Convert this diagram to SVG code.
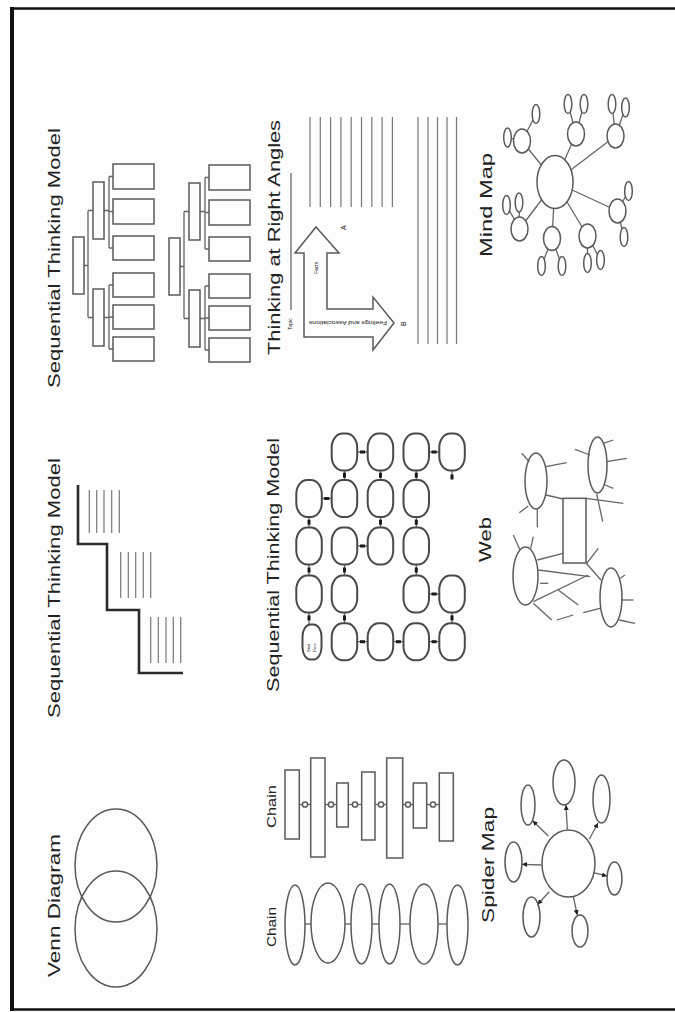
<svg xmlns="http://www.w3.org/2000/svg" width="675" height="1012" viewBox="0 0 675 1012">
<defs>
<style>
.t{font-family:"Liberation Sans","DejaVu Sans",sans-serif;fill:#222;}
.ti{font-size:17px;}
.sm{font-size:13px;}
.xs{font-size:5px;}
.o{fill:none;stroke:#5a5a5a;stroke-width:1.5;}
.n{fill:#fff;stroke:#5a5a5a;stroke-width:1.5;}
.ov{fill:#fff;stroke:#4a4a4a;stroke-width:2;}
.l{stroke:#666;stroke-width:1.3;fill:none;}
.hl{stroke:#777;stroke-width:1.2;}
.th{fill:none;stroke:#2a2a2a;stroke-width:2.6;}
.tk{fill:#1a1a1a;}
</style>
<marker id="ah" viewBox="0 0 6 6" refX="6" refY="3" markerWidth="5" markerHeight="5" markerUnits="userSpaceOnUse" orient="auto"><path d="M0,0 L6,3 L0,6 z" fill="#222"/></marker>
</defs>
<rect width="675" height="1012" fill="#fdfdfd"/>
<g id="frame">
<rect x="10" y="7" width="4" height="1004" fill="#111"/>
<line x1="10" y1="8.5" x2="675" y2="8.5" stroke="#111" stroke-width="2.5"/>
<line x1="10" y1="1009.5" x2="675" y2="1009.5" stroke="#111" stroke-width="2.5"/>
</g>

<!-- Titles -->
<g id="titles">
<text class="t ti" transform="translate(60,388) rotate(-90)" textLength="260" lengthAdjust="spacingAndGlyphs">Sequential Thinking Model</text>
<text class="t ti" transform="translate(60,718) rotate(-90)" textLength="260" lengthAdjust="spacingAndGlyphs">Sequential Thinking Model</text>
<text class="t ti" transform="translate(60,977) rotate(-90)" textLength="143" lengthAdjust="spacingAndGlyphs">Venn Diagram</text>
<text class="t ti" transform="translate(280,355) rotate(-90)" textLength="235" lengthAdjust="spacingAndGlyphs">Thinking at Right Angles</text>
<text class="t ti" transform="translate(279,692) rotate(-90)" textLength="254" lengthAdjust="spacingAndGlyphs">Sequential Thinking Model</text>
<text class="t sm" transform="translate(276,828) rotate(-90)" textLength="43" lengthAdjust="spacingAndGlyphs">Chain</text>
<text class="t sm" transform="translate(276,947) rotate(-90)" textLength="40" lengthAdjust="spacingAndGlyphs">Chain</text>
<text class="t ti" transform="translate(492,257) rotate(-90)" textLength="104" lengthAdjust="spacingAndGlyphs">Mind Map</text>
<text class="t ti" transform="translate(491,562) rotate(-90)" textLength="45" lengthAdjust="spacingAndGlyphs">Web</text>
<text class="t ti" transform="translate(494,923) rotate(-90)" textLength="116" lengthAdjust="spacingAndGlyphs">Spider Map</text>
</g>

<!-- Tree diagrams -->
<g id="tree1">
<g id="tree1-connectors" class="l">
<path d="M84,265.5 H88 M88,210.5 V317.5 M88,210.5 H93 M88,317.5 H93"/>
<path d="M104,210.5 H109 M109,176.5 V248 M109,176.5 H113 M109,211.5 H113 M109,248 H113"/>
<path d="M104,317.5 H109 M109,285 V349 M109,285 H113 M109,317 H113 M109,349 H113"/>
</g>
<g id="tree1-nodes" class="o">
<rect x="73" y="237" width="11" height="57"/>
<rect x="93" y="182" width="11" height="57"/>
<rect x="93" y="289" width="11" height="57"/>
<rect x="113" y="164" width="41" height="25"/>
<rect x="113" y="199" width="41" height="25"/>
<rect x="113" y="236" width="41" height="24"/>
<rect x="113" y="273" width="41" height="24"/>
<rect x="113" y="305" width="41" height="24"/>
<rect x="113" y="337" width="41" height="24"/>
</g>
</g>
<g id="tree2" transform="translate(96,1)">
<g id="tree2-connectors" class="l">
<path d="M84,265.5 H88 M88,210.5 V317.5 M88,210.5 H93 M88,317.5 H93"/>
<path d="M104,210.5 H109 M109,176.5 V248 M109,176.5 H113 M109,211.5 H113 M109,248 H113"/>
<path d="M104,317.5 H109 M109,285 V349 M109,285 H113 M109,317 H113 M109,349 H113"/>
</g>
<g id="tree2-nodes" class="o">
<rect x="73" y="237" width="11" height="57"/>
<rect x="93" y="182" width="11" height="57"/>
<rect x="93" y="289" width="11" height="57"/>
<rect x="113" y="164" width="41" height="25"/>
<rect x="113" y="199" width="41" height="25"/>
<rect x="113" y="236" width="41" height="24"/>
<rect x="113" y="273" width="41" height="24"/>
<rect x="113" y="305" width="41" height="24"/>
<rect x="113" y="337" width="41" height="24"/>
</g>
</g>

<!-- Staircase -->
<g id="staircase">
<polyline class="th" points="78,485 78,544 107,544 107,610 139,610 139,673 183,673"/>
<g class="hl">
<line x1="89.3" y1="490" x2="89.3" y2="533"/><line x1="96.7" y1="490" x2="96.7" y2="533"/><line x1="104" y1="490" x2="104" y2="533"/><line x1="111.7" y1="490" x2="111.7" y2="533"/><line x1="119.3" y1="490" x2="119.3" y2="533"/>
<line x1="120.7" y1="552" x2="120.7" y2="598"/><line x1="128.3" y1="552" x2="128.3" y2="598"/><line x1="135.7" y1="552" x2="135.7" y2="598"/><line x1="143.3" y1="552" x2="143.3" y2="598"/><line x1="150.7" y1="552" x2="150.7" y2="598"/>
<line x1="150.7" y1="617" x2="150.7" y2="663"/><line x1="158.3" y1="617" x2="158.3" y2="663"/><line x1="166" y1="617" x2="166" y2="663"/><line x1="173.3" y1="617" x2="173.3" y2="663"/><line x1="180.7" y1="617" x2="180.7" y2="663"/>
</g>
</g>

<!-- Venn -->
<g id="venn" class="o">
<ellipse id="venn-a" cx="116" cy="865.5" rx="41" ry="56.5"/>
<ellipse id="venn-b" cx="116" cy="929" rx="41" ry="58"/>
</g>

<!-- Thinking at right angles -->
<g id="right-angles">
<line class="l" x1="291" y1="173" x2="291" y2="310"/>
<text class="t xs" transform="translate(292,330) rotate(-90)">Topic</text>
<polygon id="arrows" class="o" points="304,337 304,253 295,253 316,227 339,253 327,253 327,309 373,309 373,297 394,323 373,350 373,337"/>
<text class="t xs" transform="translate(318,274) rotate(-90)">Facts</text>
<text class="t" font-size="5.5" transform="translate(387,321) rotate(180)" textLength="78" lengthAdjust="spacingAndGlyphs">Feelings and Associations</text>
<text class="t" font-size="7" transform="translate(346,230) rotate(-90)">A</text>
<text class="t" font-size="7" transform="translate(406,326) rotate(-90)">B</text>
<g class="hl">
<line x1="310" y1="117" x2="310" y2="207"/><line x1="320.3" y1="117" x2="320.3" y2="207"/><line x1="330.6" y1="117" x2="330.6" y2="207"/><line x1="340.9" y1="117" x2="340.9" y2="207"/><line x1="351.2" y1="117" x2="351.2" y2="207"/><line x1="361.5" y1="117" x2="361.5" y2="207"/><line x1="371.8" y1="117" x2="371.8" y2="207"/><line x1="382.1" y1="117" x2="382.1" y2="207"/><line x1="392.4" y1="117" x2="392.4" y2="207"/>
<line x1="418" y1="117" x2="418" y2="344"/><line x1="428" y1="117" x2="428" y2="344"/><line x1="437.5" y1="117" x2="437.5" y2="344"/><line x1="447" y1="117" x2="447" y2="344"/><line x1="456.5" y1="117" x2="456.5" y2="344"/>
</g>
</g>

<!-- Sequential grid -->
<g id="grid">
<g id="grid-connectors">
<g class="l">
<path d="M357.3,452 H367.7 M429,452 H439.3 M321.8,498.5 H331.7 M357.3,546 H367.7 M429,594 H439.3 M357.3,641.7 H367.7 M393.3,641.7 H403.5 M429,641.7 H439.3"/>
<path d="M344.5,470.5 V480 M380.5,470.5 V480 M416.3,470.5 V480 M452,470.5 V478 M309,517 V527.5 M380.5,517 V527.5 M416.3,517 V527.5 M309,564.5 V575.5 M344.5,564.5 V575.5 M416.3,564.5 V575.5 M309,612.5 V624 M344.5,612.5 V623 M452,612.5 V623"/>
</g>
<g class="tk">
<rect x="360" y="450.5" width="5" height="3"/><rect x="431.6" y="450.5" width="5" height="3"/><rect x="324.2" y="497" width="5" height="3"/><rect x="360" y="544.5" width="5" height="3"/><rect x="431.6" y="592.5" width="5" height="3"/><rect x="360" y="640.2" width="5" height="3"/><rect x="395.9" y="640.2" width="5" height="3"/><rect x="431.6" y="640.2" width="5" height="3"/>
<rect x="343" y="472.7" width="3" height="5"/><rect x="379" y="472.7" width="3" height="5"/><rect x="414.8" y="472.7" width="3" height="5"/><rect x="450.5" y="474.5" width="3" height="5"/>
<rect x="307.5" y="519.7" width="3" height="5"/><rect x="379" y="519.7" width="3" height="5"/><rect x="414.8" y="519.7" width="3" height="5"/>
<rect x="307.5" y="567.5" width="3" height="5"/><rect x="343" y="567.5" width="3" height="5"/><rect x="414.8" y="567.5" width="3" height="5"/>
<rect x="307.5" y="615.4" width="3" height="5"/><rect x="343" y="615.4" width="3" height="5"/><rect x="450.5" y="615.4" width="3" height="5"/>
</g>
</g>
<g id="grid-nodes" class="ov">
<rect x="331.7" y="433.5" width="25.5" height="37" rx="11" ry="14"/>
<rect x="367.7" y="433.5" width="25.5" height="37" rx="11" ry="14"/>
<rect x="403.5" y="433.5" width="25.5" height="37" rx="11" ry="14"/>
<rect x="439.3" y="433.5" width="25.5" height="37" rx="11" ry="14"/>
<rect x="296.3" y="480" width="25.5" height="37" rx="11" ry="14"/>
<rect x="331.7" y="480" width="25.5" height="37" rx="11" ry="14"/>
<rect x="367.7" y="480" width="25.5" height="37" rx="11" ry="14"/>
<rect x="403.5" y="480" width="25.5" height="37" rx="11" ry="14"/>
<rect x="296.3" y="527.5" width="25.5" height="37" rx="11" ry="14"/>
<rect x="331.7" y="527.5" width="25.5" height="37" rx="11" ry="14"/>
<rect x="367.7" y="527.5" width="25.5" height="37" rx="11" ry="14"/>
<rect x="403.5" y="527.5" width="25.5" height="37" rx="11" ry="14"/>
<rect x="296.3" y="575.5" width="25.5" height="37" rx="11" ry="14"/>
<rect x="331.7" y="575.5" width="25.5" height="37" rx="11" ry="14"/>
<rect x="403.5" y="575.5" width="25.5" height="37" rx="11" ry="14"/>
<rect x="439.3" y="575.5" width="25.5" height="37" rx="11" ry="14"/>
<rect x="302.5" y="624.5" width="19" height="35" rx="8" ry="12"/>
<rect x="331.7" y="623.2" width="25.5" height="37" rx="11" ry="14"/>
<rect x="367.7" y="623.2" width="25.5" height="37" rx="11" ry="14"/>
<rect x="403.5" y="623.2" width="25.5" height="37" rx="11" ry="14"/>
<rect x="439.3" y="623.2" width="25.5" height="37" rx="11" ry="14"/>
</g>
<text class="t" font-size="4" transform="translate(310,652) rotate(-90)">Start</text>
<text class="t" font-size="4" transform="translate(316,652) rotate(-90)">Here</text>
</g>

<!-- Chain rectangles -->
<g id="chain-rects">
<g id="chain-rects-connectors" class="l">
<line x1="299.3" y1="804.5" x2="310.7" y2="804.5"/><line x1="325" y1="804.5" x2="336.7" y2="804.5"/><line x1="348.3" y1="804.5" x2="361.7" y2="804.5"/><line x1="375" y1="804.5" x2="386.7" y2="804.5"/><line x1="402.7" y1="804.5" x2="413.3" y2="804.5"/><line x1="426.7" y1="804.5" x2="439.3" y2="804.5"/>
</g>
<g class="n">
<circle cx="305" cy="804.5" r="2.6"/><circle cx="331" cy="804.5" r="2.6"/><circle cx="355" cy="804.5" r="2.6"/><circle cx="381" cy="804.5" r="2.6"/><circle cx="408" cy="804.5" r="2.6"/><circle cx="433" cy="804.5" r="2.6"/>
</g>
<g class="o">
<rect x="285" y="770" width="14.3" height="69"/>
<rect x="310.7" y="758" width="14.3" height="99"/>
<rect x="336.7" y="783" width="11.6" height="44"/>
<rect x="361.7" y="772" width="13.3" height="68"/>
<rect x="386.7" y="758" width="16" height="100"/>
<rect x="413.3" y="783" width="13.4" height="45"/>
<rect x="439.3" y="773" width="14" height="68"/>
</g>
</g>

<!-- Chain ellipses -->
<g id="chain-ellipses">
<g id="chain-ellipses-connectors" class="l">
<line x1="305" y1="924" x2="311" y2="924"/><line x1="345" y1="924" x2="351" y2="924"/><line x1="372" y1="924" x2="379" y2="924"/><line x1="400" y1="924" x2="410" y2="924"/><line x1="438" y1="924" x2="447" y2="924"/>
</g>
<g class="o">
<ellipse cx="295" cy="925" rx="10" ry="40"/>
<ellipse cx="328" cy="923" rx="17" ry="40"/>
<ellipse cx="361.5" cy="924" rx="10.5" ry="40"/>
<ellipse cx="389.5" cy="924" rx="10.5" ry="40"/>
<ellipse cx="424" cy="924" rx="14" ry="40"/>
<ellipse cx="457.5" cy="925" rx="10.5" ry="40"/>
</g>
</g>

<!-- Mind map -->
<g id="mindmap">
<g id="mindmap-connectors" class="l">
<line x1="555" y1="182" x2="522" y2="141"/><line x1="555" y1="182" x2="576" y2="134"/><line x1="555" y1="182" x2="615.5" y2="136"/><line x1="555" y1="182" x2="617.5" y2="211"/><line x1="555" y1="182" x2="587.5" y2="236"/><line x1="555" y1="182" x2="552" y2="238.5"/><line x1="555" y1="182" x2="519.5" y2="229"/>
<line x1="522" y1="141" x2="507.5" y2="137.5"/><line x1="522" y1="141" x2="536" y2="114"/>
<line x1="576" y1="134" x2="568" y2="104"/><line x1="576" y1="134" x2="584" y2="104"/>
<line x1="615.5" y1="136" x2="612" y2="104"/><line x1="615.5" y1="136" x2="625.5" y2="107.5"/>
<line x1="617.5" y1="211" x2="628.5" y2="191"/><line x1="617.5" y1="211" x2="624" y2="237"/>
<line x1="587.5" y1="236" x2="587.5" y2="263"/><line x1="587.5" y1="236" x2="600.5" y2="260"/>
<line x1="552" y1="238.5" x2="541.5" y2="266"/><line x1="552" y1="238.5" x2="562" y2="266"/>
<line x1="519.5" y1="229" x2="506.5" y2="205"/><line x1="519.5" y1="229" x2="519" y2="202.5"/>
</g>
<g id="mindmap-nodes" class="n">
<ellipse cx="555" cy="182" rx="18" ry="26.5"/>
<ellipse cx="522" cy="141" rx="8.5" ry="12"/><ellipse cx="576" cy="134" rx="8.5" ry="12"/><ellipse cx="615.5" cy="136" rx="8.5" ry="12"/><ellipse cx="617.5" cy="211" rx="8.5" ry="12"/><ellipse cx="587.5" cy="236" rx="8.5" ry="12"/><ellipse cx="552" cy="238.5" rx="8.5" ry="12"/><ellipse cx="519.5" cy="229" rx="8.5" ry="12"/>
<ellipse cx="507.5" cy="137.5" rx="3.8" ry="9.5"/><ellipse cx="536" cy="114" rx="3.8" ry="9.5"/>
<ellipse cx="568" cy="104" rx="3.8" ry="9.5"/><ellipse cx="584" cy="104" rx="3.8" ry="9.5"/>
<ellipse cx="612" cy="104" rx="3.8" ry="9.5"/><ellipse cx="625.5" cy="107.5" rx="3.8" ry="9.5"/>
<ellipse cx="628.5" cy="191" rx="3.8" ry="9.5"/><ellipse cx="624" cy="237" rx="3.8" ry="9.5"/>
<ellipse cx="587.5" cy="263" rx="3.8" ry="9.5"/><ellipse cx="600.5" cy="260" rx="3.8" ry="9.5"/>
<ellipse cx="541.5" cy="266" rx="3.8" ry="9.5"/><ellipse cx="562" cy="266" rx="3.8" ry="9.5"/>
<ellipse cx="506.5" cy="205" rx="3.8" ry="9.5"/><ellipse cx="519" cy="202.5" rx="3.8" ry="9.5"/>
</g>
</g>

<!-- Web -->
<g id="web">
<g id="web-connectors" class="l">
<line x1="521.7" y1="453.3" x2="529.3" y2="461.7"/>
<line x1="546" y1="466.7" x2="566.7" y2="462.7"/>
<line x1="519.3" y1="512.7" x2="528.3" y2="506"/>
<line x1="537.3" y1="509.3" x2="537.3" y2="527.3"/>
<line x1="546" y1="495" x2="563" y2="499"/>
<line x1="575" y1="449.3" x2="590" y2="455"/>
<line x1="603.3" y1="443.3" x2="613.3" y2="440"/>
<line x1="606.7" y1="461.7" x2="626.7" y2="458.3"/>
<line x1="605" y1="485" x2="613.3" y2="488.3"/>
<line x1="586" y1="498.3" x2="623.3" y2="503.3"/>
<line x1="596.7" y1="494" x2="602.7" y2="521.7"/>
<line x1="513.3" y1="535" x2="520" y2="550"/>
<line x1="533.3" y1="536.7" x2="530.7" y2="548.3"/>
<line x1="537.3" y1="560" x2="563" y2="553.3"/>
<line x1="538.3" y1="570" x2="590" y2="576.7"/>
<line x1="540" y1="583.3" x2="548.3" y2="583.3"/>
<line x1="533.3" y1="601.7" x2="588.3" y2="575"/>
<line x1="558.3" y1="590" x2="578.3" y2="605"/>
<line x1="533.3" y1="603.3" x2="551.7" y2="620"/>
<line x1="556.7" y1="620" x2="573.3" y2="615"/>
<line x1="583.3" y1="612.7" x2="600" y2="608.3"/>
<line x1="586" y1="563" x2="601" y2="580"/>
<line x1="586.7" y1="563.3" x2="598.3" y2="548.3"/>
<line x1="620" y1="578.3" x2="625" y2="575"/>
<line x1="621.7" y1="600" x2="633.3" y2="600"/>
<line x1="619.3" y1="620" x2="635" y2="623.3"/>
</g>
<g id="web-nodes" class="o">
<ellipse cx="536" cy="481" rx="11" ry="28"/>
<ellipse cx="597.5" cy="465" rx="9.5" ry="28"/>
<ellipse cx="525.5" cy="576" rx="12.5" ry="29"/>
<ellipse cx="611" cy="597.5" rx="11" ry="29.5"/>
<rect x="563" y="498.3" width="23" height="64.7"/>
</g>
</g>

<!-- Spider map -->
<g id="spider">
<g id="spider-connectors" class="l" marker-end="url(#ah)">
<line x1="548.3" y1="836" x2="532.7" y2="820.7" marker-end="url(#ah)"/>
<line x1="567.3" y1="829.3" x2="566" y2="805" marker-end="url(#ah)"/>
<line x1="589.3" y1="839.3" x2="598" y2="823" marker-end="url(#ah)"/>
<line x1="541.7" y1="865" x2="522" y2="864.3" marker-end="url(#ah)"/>
<line x1="593.3" y1="872.7" x2="607" y2="876" marker-end="url(#ah)"/>
<line x1="549.3" y1="891.7" x2="537.5" y2="904.5" marker-end="url(#ah)"/>
<line x1="573.3" y1="896.7" x2="577.3" y2="915" marker-end="url(#ah)"/>
</g>
<g id="spider-nodes" class="o">
<ellipse cx="568.5" cy="863.5" rx="26.5" ry="33.5"/>
<ellipse cx="528" cy="805" rx="7" ry="20"/>
<ellipse cx="564" cy="782.5" rx="11" ry="22.5"/>
<ellipse cx="601.5" cy="799" rx="8.5" ry="24"/>
<ellipse cx="513.5" cy="862" rx="8.5" ry="20"/>
<ellipse cx="614.5" cy="878.5" rx="7.5" ry="16.5"/>
<ellipse cx="531.5" cy="917" rx="8.5" ry="20"/>
<ellipse cx="580" cy="931" rx="8" ry="16"/>
</g>
</g>
</svg>
